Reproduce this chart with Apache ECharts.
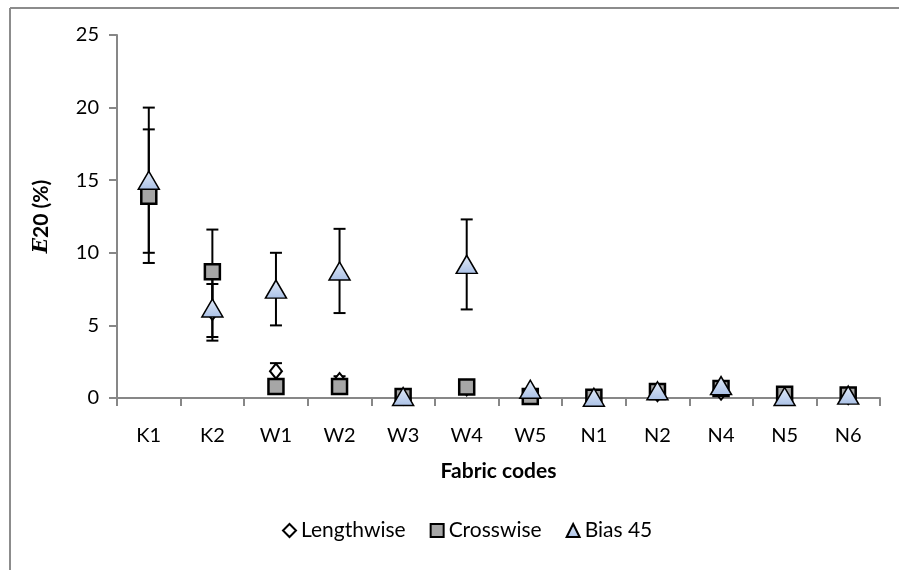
<!DOCTYPE html>
<html>
<head>
<meta charset="utf-8">
<script src="https://cdn.jsdelivr.net/npm/echarts@6/dist/echarts.min.js"></script>
<style>
  html, body { margin: 0; padding: 0; background: #fff; }
  #chart { width: 899px; height: 570px; }
</style>
</head>
<body>
<div id="chart"></div>
<script>
// fabric codes on the x axis
var categories = ['K1', 'K2', 'W1', 'W2', 'W3', 'W4', 'W5', 'N1', 'N2', 'N4', 'N5', 'N6'];

// E20 (%) mean values and their error bar half widths
var lengthwise    = [14.4, 5.9, 1.85, 1.2, 0.05, 0.7, 0.4, 0.05, 0.3, 0.4, 0.1, 0.1];
var lengthwiseErr = [0, 1.95, 0.55, 0.3, 0, 0, 0, 0, 0, 0, 0, 0];
var crosswise     = [13.9, 8.7, 0.8, 0.8, 0.1, 0.75, 0.1, 0.05, 0.45, 0.65, 0.25, 0.2];
var crosswiseErr  = [4.6, 2.9, 0, 0, 0, 0, 0, 0, 0, 0, 0, 0];
var bias45        = [15.0, 6.2, 7.5, 8.75, 0.1, 9.2, 0.6, 0.05, 0.5, 0.85, 0.1, 0.2];
var bias45Err     = [5.0, 2.0, 2.5, 2.9, 0, 3.1, 0, 0, 0, 0, 0, 0];

var yTicks = [0, 5, 10, 15, 20, 25];

var font = 'Lato, "Open Sans", sans-serif';

function errData(vals, errs) {
  var out = [];
  for (var i = 0; i < vals.length; i++) {
    if (errs[i] > 0) out.push([i, vals[i] - errs[i], vals[i] + errs[i]]);
  }
  return out;
}

function renderErr(params, api) {
  var x = api.value(0);
  var lo = api.coord([x, api.value(1)]);
  var hi = api.coord([x, api.value(2)]);
  var w = 6;
  var st = { stroke: '#000', lineWidth: 2 };
  return {
    type: 'group',
    children: [
      { type: 'line', shape: { x1: lo[0], y1: lo[1], x2: hi[0], y2: hi[1] }, style: st },
      { type: 'line', shape: { x1: lo[0] - w, y1: lo[1], x2: lo[0] + w, y2: lo[1] }, style: st },
      { type: 'line', shape: { x1: hi[0] - w, y1: hi[1], x2: hi[0] + w, y2: hi[1] }, style: st }
    ]
  };
}

var triFill = new echarts.graphic.LinearGradient(0, 0, 0, 1, [
  { offset: 0, color: '#e4ecf8' },
  { offset: 1, color: '#a9c0e6' }
]);

var chart = echarts.init(document.getElementById('chart'));

var option = {
  backgroundColor: '#fff',
  animation: false,
  grid: { left: 117, right: 19, top: 35, bottom: 172 },
  legend: {
    bottom: 24,
    left: 277,
    itemGap: 24,
    itemWidth: 13,
    itemHeight: 13,
    textStyle: { fontFamily: font, fontSize: 21, color: '#000' },
    data: [
      { name: 'Lengthwise', icon: 'diamond' },
      { name: 'Crosswise', icon: 'rect' },
      { name: 'Bias 45', icon: 'triangle' }
    ]
  },
  xAxis: {
    type: 'category',
    data: categories,
    boundaryGap: true,
    name: 'Fabric codes',
    nameLocation: 'middle',
    nameGap: 63,
    nameTextStyle: { fontFamily: font, fontSize: 21, fontWeight: 'bold', color: '#000' },
    axisLine: { lineStyle: { color: '#878787', width: 2 } },
    axisTick: { show: true, length: 8, interval: 0, lineStyle: { color: '#878787', width: 2 } },
    axisLabel: { fontFamily: font, fontSize: 20, color: '#000', margin: 28, interval: 0 },
    splitLine: { show: false }
  },
  yAxis: {
    type: 'value',
    min: yTicks[0],
    max: yTicks[yTicks.length - 1],
    interval: 5,
    name: '{i|E}{b|20 (%)}',
    nameLocation: 'middle',
    nameRotate: 90,
    nameGap: 65,
    nameTextStyle: {
      rich: {
        i: { fontFamily: '"DejaVu Serif", serif', fontStyle: 'italic', fontWeight: 'bold', fontSize: 20, color: '#000' },
        b: { fontFamily: font, fontWeight: 'bold', fontSize: 21, color: '#000' }
      }
    },
    axisLine: { show: true, lineStyle: { color: '#878787', width: 2 } },
    axisTick: { show: true, length: 8, lineStyle: { color: '#878787', width: 2 } },
    axisLabel: { fontFamily: font, fontSize: 20, color: '#000', margin: 18 },
    splitLine: { show: false }
  },
  graphic: [
    { type: 'line', shape: { x1: 10, y1: 8, x2: 899, y2: 8 }, style: { stroke: '#8c8c8c', lineWidth: 2 } },
    { type: 'line', shape: { x1: 10, y1: 8, x2: 10, y2: 570 }, style: { stroke: '#8c8c8c', lineWidth: 2 } }
  ],
  series: [
    { name: 'errL', type: 'custom', renderItem: renderErr, data: errData(lengthwise, lengthwiseErr), z: 1, silent: true },
    { name: 'errC', type: 'custom', renderItem: renderErr, data: errData(crosswise, crosswiseErr), z: 1, silent: true },
    { name: 'errB', type: 'custom', renderItem: renderErr, data: errData(bias45, bias45Err), z: 1, silent: true },
    {
      name: 'Lengthwise', type: 'scatter', symbol: 'diamond', symbolSize: [12, 15], z: 3,
      itemStyle: { color: '#fff', borderColor: '#000', borderWidth: 2, opacity: 1 },
      data: lengthwise
    },
    {
      name: 'Crosswise', type: 'scatter', symbol: 'rect', symbolSize: 15, z: 4,
      itemStyle: { color: '#a6a6a6', borderColor: '#000', borderWidth: 2.5, opacity: 1 },
      data: crosswise
    },
    {
      name: 'Bias 45', type: 'scatter', symbol: 'triangle', symbolSize: [21, 18], z: 5,
      itemStyle: { color: triFill, borderColor: '#000', borderWidth: 1.5, opacity: 1 },
      data: bias45
    }
  ]
};

chart.setOption(option);
</script>
</body>
</html>
